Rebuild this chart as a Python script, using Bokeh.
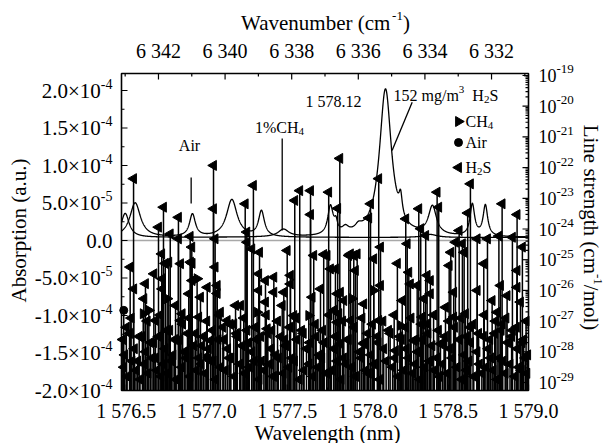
import numpy as np
from bokeh.plotting import figure
from bokeh.models import Range1d, LogScale, Label
from bokeh.embed import file_html
from bokeh.resources import INLINE

FONT = "Liberation Serif"

# ---------------- axis data ----------------
wl_range = (1576.47, 1579.0)          # wavelength (nm), bottom axis
abs_range = (-2.0e-4, 2.2267e-4)      # absorption (a.u.), left axis
ls_exp_range = (-29.26, -18.935)      # log10 line strength, right axis
wn_range = (6343.11, 6330.89)         # wavenumber (cm-1), top axis

wl_ticks = [1576.5, 1577.0, 1577.5, 1578.0, 1578.5, 1579.0]
wl_minor = [1576.75, 1577.25, 1577.75, 1578.25, 1578.75]
wl_labels = ["1 576.5", "1 577.0", "1 577.5", "1 578.0", "1 578.5", "1 579.0"]

abs_ticks = [2.0e-4, 1.5e-4, 1.0e-4, 5.0e-5, 0.0, -5.0e-5, -1.0e-4, -1.5e-4, -2.0e-4]
abs_minor = [1.75e-4, 1.25e-4, 7.5e-5, 2.5e-5, -2.5e-5, -7.5e-5, -1.25e-4, -1.75e-4]
abs_label_base = ["2.0×10", "1.5×10", "1.0×10", "5.0×10", "0.0",
                  "-5.0×10", "-1.0×10", "-1.5×10", "-2.0×10"]
abs_label_exp = ["-4", "-4", "-4", "-5", "", "-5", "-4", "-4", "-4"]

wn_ticks = [6342, 6340, 6338, 6336, 6334, 6332]
wn_minor = [6343, 6341, 6339, 6337, 6335, 6333, 6331]
wn_labels = ["6 342", "6 340", "6 338", "6 336", "6 334", "6 332"]

ls_decades = [-19, -20, -21, -22, -23, -24, -25, -26, -27, -28, -29]

# ---------------- line list (stick spectrum) ----------------
h2s_strong_wl = [
    1576.545, 1576.731, 1576.700, 1576.824, 1576.773, 1576.897, 1576.824, 1577.042, 1577.042, 1577.052,
    1576.907, 1576.909, 1577.239, 1577.290, 1577.249, 1577.280, 1577.328, 1577.547, 1577.578, 1577.645,
    1577.645, 1577.758, 1577.827, 1577.814, 1577.500, 1577.665, 1577.727, 1577.748, 1577.883, 1577.914,
    1578.069, 1578.018, 1578.007, 1578.080, 1578.038, 1578.246, 1578.237, 1578.318, 1578.330, 1578.361,
    1578.432, 1578.442, 1578.639, 1578.622, 1578.836, 1578.929, 1578.546, 1578.569, 1578.589, 1578.681,
    1578.745, 1578.816, 1578.900, 1578.962, 1578.517, 1578.600, 1578.507, 1578.185, 1576.720, 1576.742,
    1576.524, 1577.052, 1577.251]
h2s_strong_logS = [
    -22.36, -23.29, -23.94, -23.62, -24.16, -24.24, -24.32, -21.93, -23.34, -24.32,
    -24.59, -25.12, -23.18, -22.58, -24.10, -24.65, -24.76, -23.07, -22.75, -22.75,
    -23.53, -22.80, -21.70, -23.33, -24.70, -24.86, -24.83, -24.86, -24.86, -24.86,
    -22.36, -23.18, -23.64, -24.59, -24.97, -24.48, -23.67, -23.34, -23.99, -24.21,
    -22.80, -23.29, -22.53, -23.48, -23.18, -23.53, -24.43, -24.05, -24.48, -24.32,
    -24.32, -24.23, -24.27, -24.59, -24.76, -24.76, -25.19, -25.12, -24.81, -25.12,
    -25.24, -25.24, -24.43]

h2s_mid_wl = [
    1576.546, 1576.619, 1576.671, 1576.723, 1576.764, 1576.609, 1576.723, 1576.681, 1576.806, 1576.837,
    1576.847, 1576.899, 1576.909, 1576.888, 1576.961, 1577.003, 1577.065, 1577.065, 1576.950, 1576.837,
    1577.085, 1577.127, 1577.179, 1577.210, 1577.168, 1577.023, 1577.323, 1577.365, 1577.417, 1577.323,
    1577.417, 1577.469, 1577.365, 1577.376, 1577.541, 1577.479, 1577.520, 1577.520, 1577.655, 1577.707,
    1577.769, 1577.811, 1577.789, 1577.852, 1577.811, 1577.893, 1577.935, 1577.924, 1578.722, 1578.929,
    1577.800, 1578.256, 1578.370, 1578.266, 1578.080, 1578.308, 1578.390, 1578.681, 1578.826, 1578.929,
    1577.831, 1577.976, 1578.215, 1578.349, 1578.390, 1578.484, 1578.535, 1578.774, 1578.867, 1578.950,
    1577.821, 1577.893, 1578.069, 1578.339, 1578.370, 1578.535, 1578.608, 1578.639, 1578.805, 1578.836,
    1578.173, 1578.287, 1577.976, 1577.831, 1578.453]
h2s_mid_logS = [
    -25.95, -25.78, -25.46, -25.62, -25.08, -26.27, -25.95, -26.98, -26.49, -25.13,
    -26.76, -25.08, -25.68, -26.11, -26.22, -25.90, -25.84, -26.10, -26.87, -26.98,
    -26.71, -26.98, -26.49, -26.49, -27.09, -27.63, -25.46, -25.68, -25.57, -26.00,
    -26.06, -26.49, -26.38, -27.25, -26.82, -26.06, -25.79, -25.51, -26.22, -25.95,
    -25.30, -26.11, -26.65, -26.33, -27.04, -24.81, -24.81, -25.35, -25.13, -25.35,
    -25.30, -25.41, -25.51, -25.79, -25.84, -25.84, -25.68, -26.00, -25.84, -25.90,
    -26.06, -26.44, -26.33, -26.27, -26.11, -26.55, -26.06, -26.33, -26.17, -26.38,
    -26.76, -26.98, -26.98, -26.87, -27.09, -26.87, -26.76, -27.20, -26.71, -27.09,
    -27.96, -27.63, -27.74, -27.74, -27.74]

h2s_weak_wl = [
    1576.478, 1576.49, 1576.52, 1576.55, 1576.57, 1576.60, 1576.62, 1576.65, 1576.68, 1576.70,
    1576.74, 1576.77, 1576.79, 1576.83, 1576.86, 1576.88, 1576.92, 1576.95, 1576.98, 1577.01,
    1577.04, 1577.07, 1577.10, 1577.13, 1577.15, 1577.19, 1577.22, 1577.25, 1577.28, 1577.31,
    1577.34, 1577.38, 1577.40, 1577.43, 1577.46, 1577.49, 1577.53, 1577.56, 1577.59, 1577.62,
    1577.68, 1577.70, 1577.73, 1577.79, 1577.85, 1577.88, 1577.95, 1577.98, 1578.02, 1578.06,
    1578.10, 1578.14, 1578.17, 1578.21, 1578.24, 1578.31, 1578.34, 1578.40, 1578.43, 1578.48,
    1578.51, 1578.57, 1578.60, 1578.64, 1578.68, 1578.72, 1578.75, 1578.79, 1578.82, 1578.87,
    1578.90, 1578.93, 1578.97, 1578.995]
h2s_weak_logS = [
    -27.6, -28.1, -27.4, -27.9, -28.3, -27.5, -28.0, -27.7, -28.2, -27.5,
    -27.9, -27.3, -28.1, -27.6, -28.0, -27.4, -27.8, -28.2, -27.5, -27.9,
    -28.3, -27.6, -27.2, -27.9, -28.2, -27.5, -27.8, -27.3, -28.0, -27.6,
    -28.3, -27.4, -27.9, -28.1, -27.5, -27.8, -28.2, -27.6, -27.3, -27.9,
    -27.5, -28.1, -27.7, -27.9, -28.2, -27.6, -28.0, -27.7, -28.1, -27.5,
    -27.9, -27.4, -28.2, -27.6, -27.9, -28.0, -27.6, -27.8, -28.2, -27.5,
    -27.9, -27.6, -28.1, -27.7, -28.0, -27.5, -27.9, -27.4, -28.2, -27.7,
    -27.3, -27.9, -27.6, -28.1]

h2s_weak2_wl = [
    1576.50, 1576.53, 1576.58, 1576.63, 1576.67, 1576.71, 1576.75, 1576.80, 1576.85, 1576.89,
    1576.93, 1576.97, 1577.00, 1577.035, 1577.075, 1577.105, 1577.145, 1577.185, 1577.23, 1577.26,
    1577.30, 1577.335, 1577.37, 1577.405, 1577.44, 1577.485, 1577.515, 1577.555, 1577.60, 1577.64,
    1577.675, 1577.72, 1577.76, 1577.80, 1577.845, 1577.875, 1577.915, 1577.965, 1578.00, 1578.03,
    1578.065, 1578.095, 1578.13, 1578.165, 1578.20, 1578.235, 1578.27, 1578.30, 1578.335, 1578.375,
    1578.41, 1578.44, 1578.475, 1578.505, 1578.54, 1578.58, 1578.615, 1578.655, 1578.69, 1578.725,
    1578.76, 1578.795, 1578.83, 1578.86, 1578.895, 1578.925, 1578.96, 1578.985]
h2s_weak2_logS = [
    -27.2, -26.9, -27.5, -27.0, -27.7, -26.8, -27.3, -27.6, -27.1, -26.9,
    -27.4, -27.8, -27.0, -27.3, -26.8, -27.6, -27.1, -27.4, -26.9, -27.7,
    -27.2, -27.5, -26.8, -27.3, -27.0, -27.6, -27.2, -26.9, -27.4, -27.7,
    -27.1, -27.3, -26.8, -27.5, -27.0, -27.6, -27.2, -26.9, -27.4, -27.1,
    -27.7, -27.0, -27.3, -26.8, -27.5, -27.2, -26.9, -27.6, -27.1, -27.4,
    -26.8, -27.3, -27.7, -27.0, -27.2, -26.9, -27.5, -27.1, -27.4, -26.8,
    -27.6, -27.0, -27.3, -26.9, -27.5, -27.2, -27.7, -27.0]

h2s_vweak_wl = [
    1576.485, 1576.505, 1576.535, 1576.56, 1576.585, 1576.61, 1576.635, 1576.66, 1576.69, 1576.715,
    1576.73, 1576.755, 1576.78, 1576.81, 1576.845, 1576.87, 1576.895, 1576.935, 1576.965, 1576.99,
    1577.025, 1577.055, 1577.085, 1577.115, 1577.14, 1577.17, 1577.205, 1577.235, 1577.265, 1577.295,
    1577.325, 1577.355, 1577.39, 1577.415, 1577.445, 1577.475, 1577.51, 1577.545, 1577.575, 1577.605,
    1577.635, 1577.66, 1577.69, 1577.715, 1577.745, 1577.775, 1577.81, 1577.835, 1577.865, 1577.90,
    1577.925, 1577.96, 1577.99, 1578.005, 1578.04, 1578.075, 1578.115, 1578.155, 1578.19, 1578.225,
    1578.255, 1578.28, 1578.295, 1578.325, 1578.355, 1578.385, 1578.415, 1578.445, 1578.465, 1578.495,
    1578.525, 1578.555, 1578.585, 1578.615, 1578.63, 1578.66, 1578.695, 1578.71, 1578.735, 1578.765,
    1578.78, 1578.805, 1578.84, 1578.855, 1578.885, 1578.915, 1578.94, 1578.955, 1578.98, 1578.99]
h2s_vweak_logS = [
    -28.5, -28.8, -28.3, -28.6, -28.9, -28.4, -28.7, -28.2, -28.6, -28.8,
    -28.4, -28.7, -28.3, -28.9, -28.5, -28.2, -28.8, -28.6, -28.4, -28.7,
    -28.3, -28.9, -28.5, -28.6, -28.2, -28.8, -28.4, -28.7, -28.5, -28.3,
    -28.9, -28.6, -28.4, -28.8, -28.2, -28.7, -28.5, -28.3, -28.9, -28.6,
    -28.4, -28.8, -28.5, -28.2, -28.7, -28.6, -28.3, -28.9, -28.4, -28.5,
    -28.8, -28.2, -28.6, -28.7, -28.4, -28.9, -28.3, -28.5, -28.8, -28.6,
    -28.2, -28.7, -28.4, -28.9, -28.5, -28.3, -28.6, -28.8, -28.4, -28.7,
    -28.2, -28.5, -28.9, -28.6, -28.3, -28.8, -28.4, -28.7, -28.5, -28.2,
    -28.6, -28.9, -28.3, -28.7, -28.4, -28.8, -28.5, -28.6, -28.2, -28.7]

ch4_wl = [1576.605, 1576.640, 1576.754, 1576.940, 1577.313, 1577.634, 1578.038, 1577.904, 1578.204]
ch4_logS = [-26.76, -26.65, -26.27, -25.62, -26.71, -26.82, -26.00, -26.27, -27.14]

air_wl = [1576.484, 1577.003]
air_logS = [-26.65, -28.18]

# ---------------- absorption spectra (peak parameters) ----------------
h2s_spec_base = 4.0e-6
h2s_spec_center = [1576.493, 1577.477, 1577.769, 1577.803, 1577.862, 1577.943, 1578.111,
                   1578.205, 1578.403, 1578.651, 1578.732]
h2s_spec_height = [3.2e-5, 1.0e-5, 3.8e-5, 1.3e-5, 8.0e-6, 7.0e-6, 1.97e-4,
                   2.6e-5, 3.8e-5, 4.2e-5, 4.1e-5]
h2s_spec_hwhm = [0.030, 0.04, 0.020, 0.012, 0.025, 0.025, 0.045,
                 0.012, 0.030, 0.017, 0.017]

bg_spec_base = 4.0e-6
bg_spec_center = [1576.555, 1576.911, 1577.156, 1577.340, 1578.39]
bg_spec_height = [4.6e-5, 3.0e-5, 5.0e-5, 3.4e-5, 4.0e-6]
bg_spec_hwhm = [0.040, 0.022, 0.040, 0.022, 0.05]

# annotation markers
air_mark = (1576.903, 4.93e-5, 8.40e-5)
ch4_mark = (1577.469, 1.33e-5, 1.36e-4)
leader = (1578.277, 1.844e-4, 1578.152, 1.20e-4)

# ---------------- geometry: plot box inside a full-canvas frame ----------------
W, H = 605, 443
FR_L, FR_T, FR_R, FR_B = 121, 73, 528, 390   # plot box on the canvas (px)

dx = (wl_range[1] - wl_range[0]) / (FR_R - FR_L)          # nm per px
dy = (abs_range[1] - abs_range[0]) / (FR_B - FR_T)        # a.u. per px
dl = (ls_exp_range[1] - ls_exp_range[0]) / (FR_B - FR_T)  # decades per px
dw = (wn_range[1] - wn_range[0]) / (FR_R - FR_L)          # cm-1 per px (negative)

x_view = (wl_range[0] - FR_L * dx, wl_range[1] + (W - FR_R) * dx)
y_view = (abs_range[0] - (H - FR_B) * dy, abs_range[1] + FR_T * dy)
ls_view = (10 ** (ls_exp_range[0] - (H - FR_B) * dl), 10 ** (ls_exp_range[1] + FR_T * dl))
wn_view = (wn_range[0] - FR_L * dw, wn_range[1] + (W - FR_R) * dw)

p = figure(width=W, height=H, output_backend="svg", toolbar_location=None,
           x_range=Range1d(*x_view), y_range=Range1d(*y_view),
           x_axis_type=None, y_axis_type=None,
           min_border_left=0, min_border_right=0, min_border_top=0, min_border_bottom=0)
p.extra_x_ranges = {"wn": Range1d(*wn_view)}
p.extra_y_ranges = {"ls": Range1d(*ls_view)}
p.extra_y_scales = {"ls": LogScale()}
p.xgrid.visible = False
p.ygrid.visible = False
p.background_fill_color = "white"
p.border_fill_color = "white"
p.outline_line_color = None

# zero line
p.segment(x0=[wl_range[0]], y0=[0.0], x1=[wl_range[1]], y1=[0.0],
          line_color="#a8a8a8", line_width=1.5)

# spectra
wl_grid = np.linspace(wl_range[0], wl_range[1], 2500)


def lorentz_sum(base, centers, heights, hwhms):
    y = np.full_like(wl_grid, base)
    for c, h, w in zip(centers, heights, hwhms):
        y += h / (1.0 + ((wl_grid - c) / w) ** 2)
    return y


p.line(wl_grid, lorentz_sum(bg_spec_base, bg_spec_center, bg_spec_height, bg_spec_hwhm),
       line_color="black", line_width=1.3)
p.line(wl_grid, lorentz_sum(h2s_spec_base, h2s_spec_center, h2s_spec_height, h2s_spec_hwhm),
       line_color="black", line_width=1.3)

# sticks
ls_floor = 10 ** ls_exp_range[0]
h2s_wl = h2s_strong_wl + h2s_mid_wl + h2s_weak_wl + h2s_weak2_wl + h2s_vweak_wl
h2s_S = [10.0 ** v for v in
         h2s_strong_logS + h2s_mid_logS + h2s_weak_logS + h2s_weak2_logS + h2s_vweak_logS]
all_wl = h2s_wl + ch4_wl + air_wl
all_S = h2s_S + [10.0 ** v for v in ch4_logS + air_logS]
p.segment(x0=all_wl, y0=[ls_floor] * len(all_wl), x1=all_wl, y1=all_S,
          line_color="black", line_width=1.5, y_range_name="ls")

p.scatter(h2s_wl, h2s_S, marker="triangle", angle=np.pi / 2, size=10,
          color="black", y_range_name="ls")
p.scatter(ch4_wl, [10.0 ** v for v in ch4_logS], marker="triangle", angle=-np.pi / 2, size=10,
          color="black", y_range_name="ls")
p.scatter(air_wl, [10.0 ** v for v in air_logS], marker="circle", size=8,
          color="black", y_range_name="ls")

# annotation lines
p.segment(x0=[air_mark[0], ch4_mark[0], leader[0]], y0=[air_mark[1], ch4_mark[1], leader[1]],
          x1=[air_mark[0], ch4_mark[0], leader[2]], y1=[air_mark[2], ch4_mark[2], leader[3]],
          line_color="black", line_width=1.3)

# ---------------- axes (box + inward ticks) ----------------
MAJ, MIN = 6, 3
p.quad(left=[wl_range[0]], right=[wl_range[1]], bottom=[abs_range[0]], top=[abs_range[1]],
       fill_color=None, line_color="black", line_width=1.6)


def vticks(xs, y_edge, length, xr="default"):
    p.segment(x0=xs, y0=[y_edge] * len(xs), x1=xs, y1=[y_edge + length * dy] * len(xs),
              line_color="black", line_width=1.2, x_range_name=xr)


def hticks(ys, x_edge, length, yrn="default"):
    p.segment(x0=[x_edge] * len(ys), y0=ys, x1=[x_edge + length * dx] * len(ys), y1=ys,
              line_color="black", line_width=1.2, y_range_name=yrn)


vticks(wl_ticks, abs_range[0], MAJ)
vticks(wl_minor, abs_range[0], MIN)
vticks(wn_ticks, abs_range[1], -MAJ, xr="wn")
vticks(wn_minor, abs_range[1], -MIN, xr="wn")
hticks(abs_ticks, wl_range[0], MAJ)
hticks(abs_minor, wl_range[0], MIN)
ls_major = [10.0 ** e for e in ls_decades]
ls_minor = [m * 10.0 ** e for e in range(-29, -19) for m in range(2, 10)]
hticks(ls_major, wl_range[1], -MAJ, yrn="ls")
hticks(ls_minor, wl_range[1], -MIN, yrn="ls")

# ---------------- text helpers ----------------
CW = {'.': .25, ' ': .25, '×': .564, '-': .333, '(': .333, ')': .333, '/': .278, '%': .833,
      'A': .722, 'C': .667, 'H': .722, 'L': .611, 'S': .556, 'W': .944, 'a': .444, 'b': .5,
      'c': .444, 'e': .444, 'g': .5, 'h': .5, 'i': .278, 'l': .278, 'm': .778, 'n': .5,
      'o': .5, 'r': .333, 's': .389, 't': .278, 'u': .5, 'v': .5, 'p': .5}


def tw(s, size):
    return sum(CW.get(c, 0.5) for c in s) * size


def X(px):
    return x_view[0] + px * dx


def Y(py):
    return y_view[1] - py * dy


def label(x, y, text, size, xo=0.0, yo=0.0, align="left", angle=0.0,
          xr="default", yrn="default"):
    p.add_layout(Label(x=x, y=y, x_offset=xo, y_offset=yo, text=text, text_font=FONT,
                       text_font_size=f"{size}px", text_color="black", text_align=align,
                       text_baseline="middle", angle=angle, x_range_name=xr, y_range_name=yrn))


def rich(x, y, pieces, xo=0.0, yo=0.0, align="left", xr="default", yrn="default"):
    total = sum(tw(s, sz) for s, sz, d in pieces)
    pos = xo - (total / 2 if align == "center" else total if align == "right" else 0)
    for s, sz, d in pieces:
        if s.strip():
            label(x, y, s, sz, xo=pos, yo=yo + d, xr=xr, yrn=yrn)
        pos += tw(s, sz)


def rich_cw(x, y, pieces):
    total = sum(tw(s, sz) for s, sz, d in pieces)
    pos = total / 2
    for s, sz, d in pieces:
        label(x, y, s, sz, xo=d, yo=pos, angle=-np.pi / 2)
        pos -= tw(s, sz)


# tick labels
for t, b, e in zip(abs_ticks, abs_label_base, abs_label_exp):
    rich(wl_range[0], t, [(b, 21, 0), (e, 14, 7)], xo=-9, align="right")
for t, s in zip(wl_ticks, wl_labels):
    label(t, abs_range[0], s, 20, yo=-20, align="center")
for t, s in zip(wn_ticks, wn_labels):
    label(t, abs_range[1], s, 20, yo=23, align="center", xr="wn")
for e in ls_decades:
    rich(wl_range[1], 10.0 ** e, [("10", 18, 0), (str(e), 13, 6)], xo=10, yrn="ls")

# axis titles
rich(X(325), Y(22), [("Wavenumber (cm", 21, 0), ("-1", 13, 7), (")", 21, 0)], align="center")
label(X(327), Y(432), "Wavelength (nm)", 21, align="center")
label(X(18), Y(230), "Absorption (a.u.)", 21, align="center", angle=np.pi / 2)
rich_cw(X(590), Y(227), [("Line strength (cm", 21, 0), ("-1", 13, 7), ("/mol)", 21, 0)])

# in-plot annotations
label(X(189), Y(145), "Air", 16, align="center")
rich(X(279), Y(127), [("1%CH", 16, 0), ("4", 11, -4)], align="center")
label(X(333), Y(101), "1 578.12", 16, align="center")
rich(X(393), Y(95), [("152 mg/m", 16, 0), ("3", 11, 6), ("  ", 16, 0),
                     ("H", 16, 0), ("2", 11, -4), ("S", 16, 0)])

# legend
p.scatter([X(458)], [Y(121)], marker="triangle", angle=-np.pi / 2, size=10, color="black")
p.scatter([X(458)], [Y(142)], marker="circle", size=8, color="black")
p.scatter([X(458)], [Y(167)], marker="triangle", angle=np.pi / 2, size=10, color="black")
rich(X(465), Y(121), [("CH", 16, 0), ("4", 11, -4)])
label(X(465), Y(142), "Air", 16)
rich(X(465), Y(167), [("H", 16, 0), ("2", 11, -4), ("S", 16, 0)])

open("out.html", "w").write(file_html(p, INLINE))
